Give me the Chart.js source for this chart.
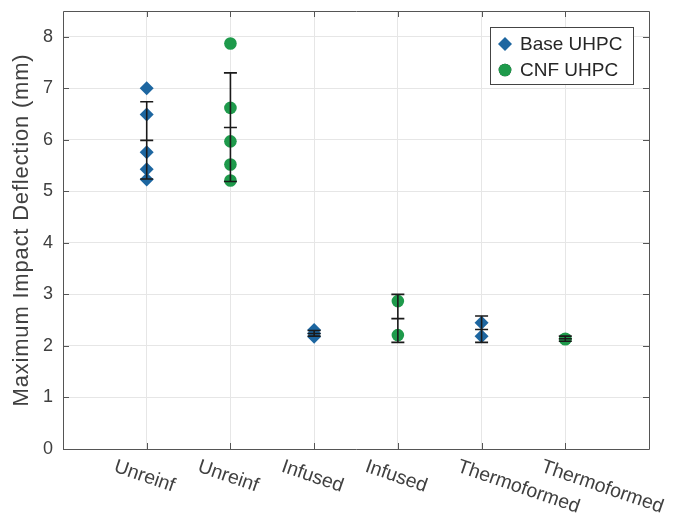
<!DOCTYPE html>
<html><head><meta charset="utf-8">
<script src="https://cdn.jsdelivr.net/npm/chart.js@4/dist/chart.umd.min.js"></script>
<style>html,body{margin:0;padding:0;background:#fff}</style>
</head><body>
<canvas id="c" width="674" height="522"></canvas>
<script>
// ---- data ----
const categories = ['Unreinf', 'Unreinf', 'Infused', 'Infused', 'Thermoformed', 'Thermoformed'];
const seriesNames = ['Base UHPC', 'CNF UHPC'];
const yTitle = 'Maximum Impact Deflection (mm)';
// individual specimens (category position -> values)
const baseUnreinf = [7.00, 6.49, 5.76, 5.43, 5.23];
const baseInfused = [2.31, 2.24, 2.18];
const baseThermo  = [2.45, 2.19];
const cnfUnreinf  = [7.87, 6.62, 5.97, 5.52, 5.21];
const cnfInfused  = [2.87, 2.21];
const cnfThermo   = [2.14, 2.13];
// error bars per category position
const barMean  = [5.99, 6.24, 2.24, 2.53, 2.32, 2.14];
const barLow   = [5.24, 5.19, 2.19, 2.07, 2.07, 2.09];
const barHigh  = [6.74, 7.30, 2.30, 3.00, 2.58, 2.19];
const yTicks = [0, 1, 2, 3, 4, 5, 6, 7, 8];

const baseGroups = [[1, baseUnreinf], [3, baseInfused], [5, baseThermo]];
const cnfGroups  = [[2, cnfUnreinf], [4, cnfInfused], [6, cnfThermo]];
const toPts = groups => groups.flatMap(([x, vals]) => vals.map(v => ({x: x, y: v})));

const BLUE = '#1d66a0', GREEN = '#1e9a4b', TXT = '#404040', AX = '#555555';
const FONT = "'Liberation Sans', Arial, Helvetica, sans-serif";

const errorBars = {
  id: 'errorBars',
  afterDatasetsDraw(chart) {
    const {ctx, scales: {x, y}} = chart;
    ctx.save();
    ctx.strokeStyle = '#1a1a1a';
    ctx.lineWidth = 1.6;
    const cap = 6.5;
    barMean.forEach((m, i) => {
      const px = x.getPixelForValue(i + 1);
      const yl = y.getPixelForValue(barLow[i]), yh = y.getPixelForValue(barHigh[i]), ym = y.getPixelForValue(m);
      ctx.beginPath();
      ctx.moveTo(px, yl); ctx.lineTo(px, yh);
      [yl, yh, ym].forEach(yy => { ctx.moveTo(px - cap, yy); ctx.lineTo(px + cap, yy); });
      ctx.stroke();
    });
    ctx.restore();
  }
};

const frame = {
  id: 'frame',
  afterDraw(chart) {
    const {ctx, chartArea: a, scales: {x, y}} = chart;
    ctx.save();
    ctx.strokeStyle = AX;
    ctx.lineWidth = 1;
    ctx.beginPath();
    ctx.rect(Math.round(a.left) + 0.5, Math.round(a.top) + 0.5, Math.round(a.right - a.left), Math.round(a.bottom - a.top));
    const tl = 6;
    categories.forEach((c, i) => {
      const px = Math.round(x.getPixelForValue(i + 1)) + 0.5;
      ctx.moveTo(px, a.bottom); ctx.lineTo(px, a.bottom - tl);
      ctx.moveTo(px, a.top); ctx.lineTo(px, a.top + tl);
    });
    yTicks.forEach(v => {
      const py = Math.round(y.getPixelForValue(v)) + 0.5;
      ctx.moveTo(a.left, py); ctx.lineTo(a.left + tl, py);
      ctx.moveTo(a.right, py); ctx.lineTo(a.right - tl, py);
    });
    ctx.stroke();

    // y-axis title
    ctx.save();
    ctx.fillStyle = TXT;
    ctx.font = '22px ' + FONT;
    ctx.letterSpacing = '0.8px';
    ctx.textAlign = 'center';
    ctx.textBaseline = 'middle';
    ctx.translate(21.5, (a.top + a.bottom) / 2);
    ctx.rotate(-Math.PI / 2);
    ctx.fillText(yTitle, 0, 0);
    ctx.restore();

    // rotated category labels
    ctx.fillStyle = TXT;
    ctx.font = '19.5px ' + FONT;
    ctx.textAlign = 'left';
    ctx.textBaseline = 'top';
    const ang = 19 * Math.PI / 180;
    categories.forEach((c, i) => {
      const w = ctx.measureText(c).width;
      const px = x.getPixelForValue(i + 1) - 37 + 0.13 * w;
      ctx.save();
      ctx.translate(px, a.bottom + 8);
      ctx.rotate(ang);
      ctx.fillText(c, 0, 0);
      ctx.restore();
    });

    // legend
    const lx = 490.5, ly = 27.5, lw = 143, lh = 57;
    ctx.fillStyle = '#fff';
    ctx.fillRect(lx, ly, lw, lh);
    ctx.strokeStyle = '#444';
    ctx.lineWidth = 1;
    ctx.strokeRect(lx, ly, lw, lh);
    const ds = chart.data.datasets;
    [44, 70].forEach((yy, k) => {
      Chart.helpers.drawPoint(ctx, {pointStyle: ds[k].pointStyle, radius: ds[k].pointRadius, rotation: 0, borderWidth: 0}, 505, yy);
      ctx.fillStyle = ds[k].backgroundColor;
      ctx.fill();
      ctx.fillStyle = '#262626';
      ctx.font = '19px ' + FONT;
      ctx.textBaseline = 'middle';
      ctx.fillText(seriesNames[k], 520, yy + 1);
    });
    ctx.restore();
  }
};

new Chart(document.getElementById('c'), {
  type: 'scatter',
  data: {
    datasets: [
      {label: seriesNames[0], data: toPts(baseGroups), pointStyle: 'rectRot', pointRadius: 7, pointHoverRadius: 7,
       backgroundColor: BLUE, borderColor: BLUE, borderWidth: 0},
      {label: seriesNames[1], data: toPts(cnfGroups), pointStyle: 'circle', pointRadius: 6.3, pointHoverRadius: 6.3,
       backgroundColor: GREEN, borderColor: GREEN, borderWidth: 0}
    ]
  },
  options: {
    responsive: false,
    animation: false,
    devicePixelRatio: 1,
    layout: {padding: {left: 0, right: 25, top: 11, bottom: 0}},
    plugins: {legend: {display: false}, tooltip: {enabled: false}},
    scales: {
      x: {
        type: 'linear', min: 0, max: 7,
        ticks: {display: false, stepSize: 1},
        grid: {color: '#e6e6e6', drawTicks: false},
        border: {display: false},
        afterFit(s) { s.height = 73; s.paddingLeft = 0; s.paddingRight = 0; }
      },
      y: {
        min: 0, max: 8.5,
        afterBuildTicks(s) { s.ticks = yTicks.map(v => ({value: v})); },
        ticks: {color: TXT, font: {size: 18, family: FONT}, padding: 10},
        grid: {color: '#e6e6e6', drawTicks: false},
        border: {display: false},
        afterFit(s) { s.width = 63; s.paddingTop = 0; s.paddingBottom = 0; }
      }
    }
  },
  plugins: [errorBars, frame]
});
</script>
</body></html>
